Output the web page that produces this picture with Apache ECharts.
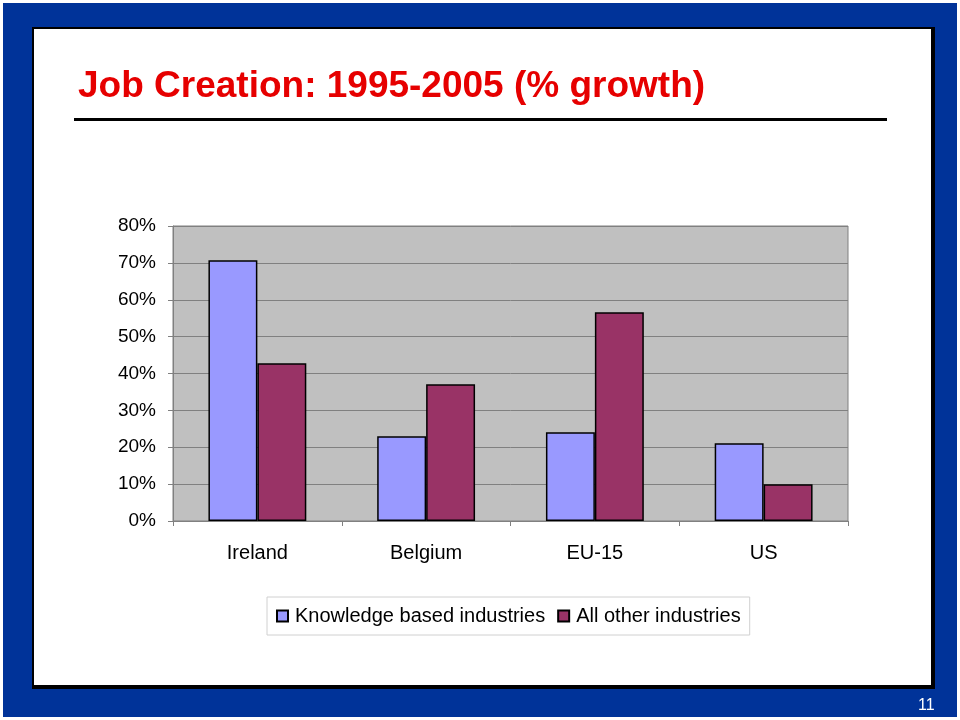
<!DOCTYPE html>
<html>
<head>
<meta charset="utf-8">
<script src="https://cdn.jsdelivr.net/npm/echarts@6/dist/echarts.min.js"></script>
<style>
html,body{margin:0;padding:0;background:#ffffff;}
#chart{width:960px;height:720px;}
</style>
</head>
<body>
<div id="chart"></div>
<script>
var titleText = 'Job Creation: 1995-2005 (% growth)';
var categories = ['Ireland', 'Belgium', 'EU-15', 'US'];
var seriesNames = ['Knowledge based industries', 'All other industries'];
var knowledgeValues = [70.7, 23.0, 24.1, 21.1];
var otherValues = [42.8, 37.1, 56.6, 10.0];
var yTicks = [0, 10, 20, 30, 40, 50, 60, 70, 80];
var pageNumber = '11';

var chart = echarts.init(document.getElementById('chart'), null, {renderer: 'canvas'});
var font = 'Liberation Sans, Arial, sans-serif';

var option = {
  backgroundColor: '#ffffff',
  animation: false,
  graphic: [
    {type: 'rect', z: -10, shape: {x: 3, y: 3, width: 954, height: 714}, style: {fill: '#003399'}, silent: true},
    {type: 'rect', z: -9, shape: {x: 32, y: 27, width: 903, height: 662}, style: {fill: '#000000'}, silent: true},
    {type: 'rect', z: -8, shape: {x: 34, y: 29, width: 897, height: 656}, style: {fill: '#ffffff'}, silent: true},
    {type: 'line', z: 5, shape: {x1: 74, y1: 119.5, x2: 887, y2: 119.5}, style: {stroke: '#000000', lineWidth: 3}, silent: true},
    {type: 'text', z: 5, left: 78, top: 68, style: {text: titleText, fill: '#E60000', font: 'bold 37px ' + font}},
    {type: 'text', z: 5, left: 918, top: 698, style: {text: pageNumber, fill: '#ffffff', font: '16px ' + font}}
  ],
  grid: {
    left: 173, top: 226, width: 675, height: 295,
    show: true, backgroundColor: '#C0C0C0', borderColor: '#808080', borderWidth: 1
  },
  legend: {
    left: 267, top: 597,
    padding: [9, 9, 9, 9],
    borderColor: '#D0D0D0', borderWidth: 1,
    icon: 'rect',
    itemWidth: 11, itemHeight: 11, itemGap: 12,
    textStyle: {fontFamily: font, fontSize: 20, color: '#000000', padding: [0, 0, 0, 2]},
    data: seriesNames
  },
  xAxis: {
    type: 'category',
    data: categories,
    axisLine: {lineStyle: {color: '#808080', width: 1}},
    axisTick: {show: true, length: 5, lineStyle: {color: '#808080'}},
    axisLabel: {fontFamily: font, fontSize: 20, color: '#000000', margin: 22}
  },
  yAxis: {
    type: 'value',
    min: yTicks[0], max: yTicks[yTicks.length - 1], interval: 10,
    axisLine: {show: true, lineStyle: {color: '#808080'}},
    axisTick: {show: true, length: 5, lineStyle: {color: '#808080'}},
    axisLabel: {fontFamily: font, fontSize: 19, color: '#000000', margin: 17, formatter: '{value}%'},
    splitLine: {lineStyle: {color: '#808080', width: 1}}
  },
  series: [
    {
      name: seriesNames[0], type: 'bar', data: knowledgeValues,
      barGap: '0%', barCategoryGap: '42%',
      itemStyle: {color: '#9999FF', borderColor: '#000000', borderWidth: 1.5}
    },
    {
      name: seriesNames[1], type: 'bar', data: otherValues,
      barGap: '0%', barCategoryGap: '42%',
      itemStyle: {color: '#993366', borderColor: '#000000', borderWidth: 1.5}
    }
  ]
};
chart.setOption(option);
</script>
</body>
</html>
